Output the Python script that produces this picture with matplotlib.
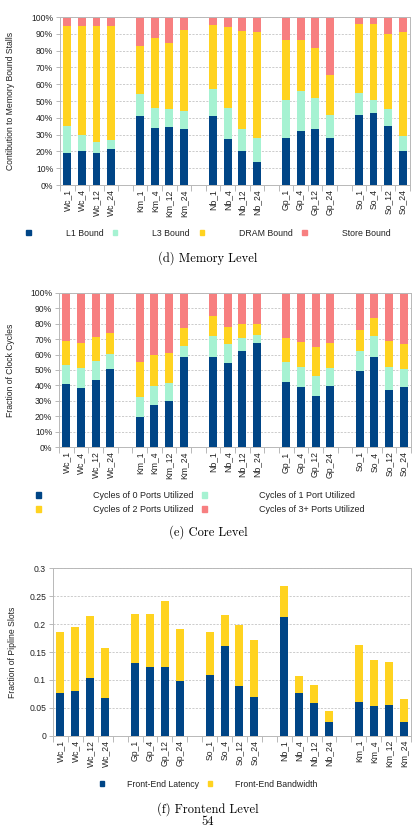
import numpy as np
import matplotlib
matplotlib.use('Agg')
from matplotlib import pyplot as plt
from matplotlib.patches import Patch
from matplotlib.ticker import FuncFormatter, MultipleLocator

plt.rcParams['font.family'] = ['Liberation Sans', 'DejaVu Sans']

# ---- (d) memory level, percent of memory bound stalls ----
mem_labels = ['Wc_1', 'Wc_4', 'Wc_12', 'Wc_24',
              'Km_1', 'Km_4', 'Km_12', 'Km_24',
              'Nb_1', 'Nb_4', 'Nb_12', 'Nb_24',
              'Gp_1', 'Gp_4', 'Gp_12', 'Gp_24',
              'So_1', 'So_4', 'So_12', 'So_24']
mem_l1 = [19.0, 20.3, 19.0, 21.3, 41.2, 33.8, 34.8, 33.2, 41.2, 27.6, 20.5, 13.9,
          27.8, 32.2, 33.2, 28.0, 41.6, 42.7, 35.4, 20.5]
mem_l3 = [16.2, 9.5, 6.8, 5.5, 13.1, 12.3, 10.3, 10.9, 16.1, 18.5, 13.1, 13.9,
          22.9, 23.5, 18.3, 13.7, 13.1, 8.0, 10.1, 8.7]
mem_dram = [59.2, 64.6, 68.6, 67.6, 28.2, 41.4, 39.4, 47.9, 37.9, 47.7, 58.2, 63.1,
            35.8, 30.8, 30.0, 23.5, 41.1, 45.1, 44.2, 61.9]
mem_store = [100 - a - b - c for a, b, c in zip(mem_l1, mem_l3, mem_dram)]
mem_names = ['L1 Bound', 'L3 Bound', 'DRAM Bound', 'Store Bound']

# ---- (e) core level, percent of clock cycles ----
core_labels = mem_labels
core_p0 = [40.9, 38.6, 43.5, 50.4, 19.4, 27.4, 30.0, 58.6, 58.6, 54.3, 62.5, 67.7,
           42.5, 38.8, 33.4, 39.9, 49.4, 58.6, 36.9, 38.8]
core_p1 = [12.1, 12.5, 12.5, 9.9, 13.4, 12.3, 11.4, 6.9, 13.6, 12.3, 8.0, 4.7,
           12.5, 12.9, 12.9, 11.4, 13.1, 13.4, 14.8, 11.6]
core_p2 = [15.8, 16.6, 15.6, 13.8, 22.2, 20.0, 19.8, 11.4, 12.7, 11.0, 9.0, 7.3,
           15.5, 16.2, 18.8, 15.9, 13.4, 11.4, 17.1, 16.6]
core_p3 = [100 - a - b - c for a, b, c in zip(core_p0, core_p1, core_p2)]
core_names = ['Cycles of 0 Ports Utilized', 'Cycles of 1 Port Utilized',
              'Cycles of 2 Ports Utilized', 'Cycles of 3+ Ports Utilized']

# ---- (f) frontend level, fraction of pipeline slots ----
fe_labels = ['Wc_1', 'Wc_4', 'Wc_12', 'Wc_24',
             'Gp_1', 'Gp_4', 'Gp_12', 'Gp_24',
             'So_1', 'So_4', 'So_12', 'So_24',
             'Nb_1', 'Nb_4', 'Nb_12', 'Nb_24',
             'Km_1', 'Km_4', 'Km_12', 'Km_24']
fe_latency = [0.077, 0.080, 0.103, 0.067, 0.131, 0.124, 0.123, 0.098,
              0.108, 0.161, 0.089, 0.070, 0.213, 0.077, 0.059, 0.025,
              0.061, 0.054, 0.055, 0.025]
fe_bandwidth = [0.108, 0.114, 0.112, 0.091, 0.087, 0.095, 0.119, 0.093,
                0.078, 0.056, 0.109, 0.102, 0.056, 0.030, 0.032, 0.020,
                0.101, 0.082, 0.077, 0.041]
fe_names = ['Front-End Latency', 'Front-End Bandwidth']

BLUE = '#004586'
MINT = '#a6f2d2'
YELLOW = '#ffd320'
RED = '#f77f80'
GRID = '#b8b8b8'
TXT = '#222222'

# groups of 4 with one empty slot between groups
pos = np.array([g * 5 + i for g in range(5) for i in range(4)])
W = 0.54


def style_axes(ax, labels, ylabel, lab_x):
    ax.set_xlim(-0.5, 23.5)
    ax.set_xticks(pos)
    ax.set_xticklabels(labels, rotation=90, fontsize=6.2, color=TXT)
    ax.set_xticks(np.arange(-0.5, 24, 1), minor=True)
    ax.tick_params(axis='x', which='major', length=0, pad=3)
    ax.tick_params(axis='x', which='minor', length=4, color=GRID, width=0.7)
    ax.tick_params(axis='y', length=3, color=GRID, width=0.7, labelsize=6.2, labelcolor=TXT, pad=2)
    ax.grid(axis='y', color=GRID, linestyle=(0, (3, 2)), linewidth=0.5)
    ax.set_axisbelow(True)
    for s in ax.spines.values():
        s.set_color(GRID)
        s.set_linewidth(0.7)
    ax.set_ylabel(ylabel, fontsize=6.2, color=TXT)
    ax.yaxis.set_label_coords(lab_x, 0.5)


def stack(ax, series, colors):
    bottom = np.zeros(len(pos))
    for vals, c in zip(series, colors):
        ax.bar(pos, vals, W, bottom=bottom, color=c, linewidth=0)
        bottom += np.array(vals)


fig = plt.figure(figsize=(4.16, 8.30), dpi=100)

# (d)
ax1 = fig.add_axes([0.1442, 0.7771, 0.8413, 0.2024])
stack(ax1, [mem_l1, mem_l3, mem_dram, mem_store], [BLUE, MINT, YELLOW, RED])
ax1.set_ylim(0, 100)
ax1.yaxis.set_major_locator(MultipleLocator(10))
ax1.yaxis.set_major_formatter(FuncFormatter(lambda v, p: '%d%%' % v))
style_axes(ax1, mem_labels, 'Contibution to Memory Bound Stalls', -0.128)
h1 = [Patch(color=c) for c in [BLUE, MINT, YELLOW, RED]]
fig.legend(h1, mem_names, loc='center', bbox_to_anchor=(0.501, 0.719), ncol=4,
           frameon=False, fontsize=6.3, handlelength=0.5, handleheight=0.6,
           handletextpad=4.0, columnspacing=1.1, borderpad=0, labelcolor=TXT)
fig.text(0.5, 1 - 258 / 830, '(d) Memory Level', ha='center', va='center',
         fontsize=9, family='cmr10')

# (e)
ax2 = fig.add_axes([0.1418, 0.4611, 0.846, 0.1863])
stack(ax2, [core_p0, core_p1, core_p2, core_p3], [BLUE, MINT, YELLOW, RED])
ax2.set_ylim(0, 100)
ax2.yaxis.set_major_locator(MultipleLocator(10))
ax2.yaxis.set_major_formatter(FuncFormatter(lambda v, p: '%d%%' % v))
style_axes(ax2, core_labels, 'Fraction of Clock Cycles', -0.125)
# column-wise fill: col1 = 0 / 2 ports, col2 = 1 / 3+ ports
h2 = [Patch(color=c) for c in [BLUE, YELLOW, MINT, RED]]
l2 = [core_names[0], core_names[2], core_names[1], core_names[3]]
fig.legend(h2, l2, loc='center', bbox_to_anchor=(0.482, 0.3947), ncol=2,
           frameon=False, fontsize=6.5, handlelength=0.5, handleheight=0.6,
           handletextpad=5.8, columnspacing=1.0, borderpad=0, labelspacing=0.55,
           labelcolor=TXT)
fig.text(0.5, 1 - 532 / 830, '(e) Core Level', ha='center', va='center',
         fontsize=9, family='cmr10')

# (f)
ax3 = fig.add_axes([0.1274, 0.1136, 0.8606, 0.2017])
stack(ax3, [fe_latency, fe_bandwidth], [BLUE, YELLOW])
ax3.set_ylim(0, 0.3)
ax3.yaxis.set_major_locator(MultipleLocator(0.05))
ax3.yaxis.set_major_formatter(FuncFormatter(lambda v, p: '%g' % round(v, 2)))
style_axes(ax3, fe_labels, 'Fraction of Pipline Slots', -0.1)
h3 = [Patch(color=c) for c in [BLUE, YELLOW]]
fig.legend(h3, fe_names, loc='center', bbox_to_anchor=(0.501, 0.0554), ncol=2,
           frameon=False, fontsize=6.3, handlelength=0.5, handleheight=0.6,
           handletextpad=2.6, columnspacing=1.0, borderpad=0, labelcolor=TXT)
fig.text(0.5, 1 - 809 / 830, '(f) Frontend Level', ha='center', va='center',
         fontsize=9, family='cmr10')
fig.text(0.5, 1 - 822 / 830, '54', ha='center', va='center',
         fontsize=9, family='cmr10')

fig.savefig('out.png', dpi=100)
